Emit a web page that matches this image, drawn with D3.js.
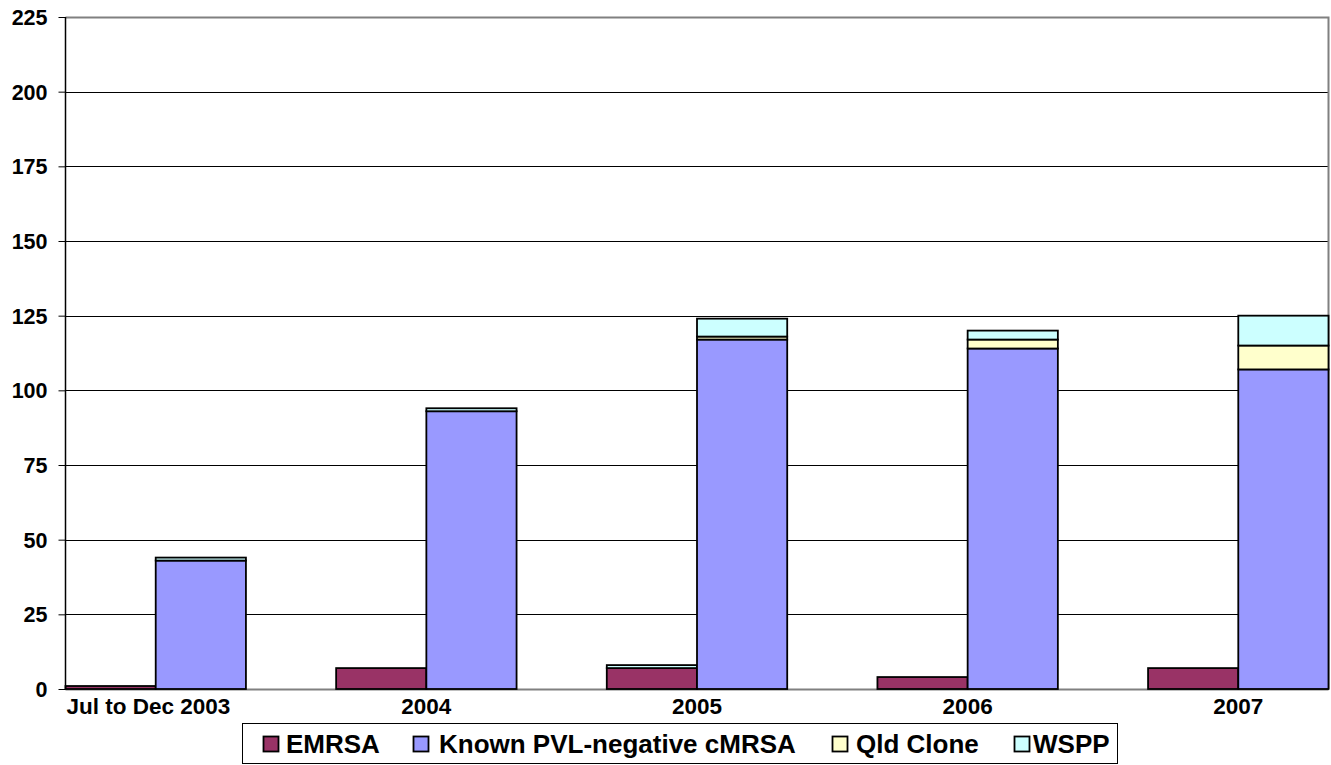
<!DOCTYPE html>
<html>
<head>
<meta charset="utf-8">
<script src="https://cdn.jsdelivr.net/npm/d3@7/dist/d3.min.js"></script>
<style>
html,body{margin:0;padding:0;background:#fff;}
svg{display:block;}
text{font-family:"Liberation Sans",Arial,sans-serif;font-weight:bold;fill:#000;}
</style>
</head>
<body>
<svg id="chart" width="1331" height="765"></svg>
<script>
// ---- data ----
const categories = ["Jul to Dec 2003", "2004", "2005", "2006", "2007"];
const seriesNames = ["EMRSA", "Known PVL-negative cMRSA", "Qld Clone", "WSPP"];
const seriesColors = ["#993366", "#9999FF", "#FFFFCC", "#CCFFFF"];
// left column of each period
const emrsa = [1, 7, 7, 4, 7];
const wsppLeft = [0, 0, 1, 0, 0];
// right column of each period
const pvlNegative = [43, 93, 117, 114, 107];
const qldClone = [0, 0, 1, 3, 8];
const wsppRight = [1, 1, 6, 3, 10];
const yTicks = [0, 25, 50, 75, 100, 125, 150, 175, 200, 225];

// ---- layout ----
const svg = d3.select("#chart");
const L = 65.5, R = 1328.5, T = 17, B = 689;

// slots: each period = left column, right column, gap (last gap dropped)
const slots = [];
categories.forEach((c, i) => { slots.push(i + "L", i + "R"); if (i < categories.length - 1) slots.push(i + "G"); });
const x = d3.scaleBand().domain(slots).range([L, R]).padding(0);
const y = d3.scaleLinear().domain([0, 225]).range([B, T]);

// gridlines
svg.append("g").selectAll("line").data(yTicks.filter(v => v > 0 && v < 225)).join("line")
  .attr("x1", L).attr("x2", R).attr("y1", d => Math.round(y(d)) + 0.5).attr("y2", d => Math.round(y(d)) + 0.5)
  .attr("stroke", "#000").attr("stroke-width", 1);
// plot border top/right (gray)
svg.append("path")
  .attr("d", `M${L},${Math.round(y(225)) + 0.5}H${R}V${B}`)
  .attr("fill", "none").attr("stroke", "#808080").attr("stroke-width", 2);
// bottom axis line
svg.append("line").attr("x1", L).attr("x2", R).attr("y1", B + 0.5).attr("y2", B + 0.5)
  .attr("stroke", "#808080").attr("stroke-width", 2);

// stacks
const segs = [];
categories.forEach((c, i) => {
  const left = [[emrsa[i], 0], [wsppLeft[i], 3]];
  const right = [[pvlNegative[i], 1], [qldClone[i], 2], [wsppRight[i], 3]];
  [[left, i + "L"], [right, i + "R"]].forEach(([stack, slot]) => {
    let base = 0;
    stack.forEach(([v, s]) => {
      if (v > 0) segs.push({ slot, y0: base, y1: base + v, s });
      base += v;
    });
  });
});
svg.append("g").selectAll("rect").data(segs).join("rect")
  .attr("x", d => x(d.slot))
  .attr("width", x.bandwidth())
  .attr("y", d => y(d.y1))
  .attr("height", d => y(d.y0) - y(d.y1))
  .attr("fill", d => seriesColors[d.s])
  .attr("stroke", "#000").attr("stroke-width", 1.8);

// y axis
const yAxis = svg.append("g").attr("transform", `translate(${L},0)`)
  .call(d3.axisLeft(y).tickValues(yTicks).tickSize(7).tickPadding(11));
yAxis.select(".domain").attr("stroke", "#000").attr("stroke-width", 1.5).attr("d", `M-0,${T}V${B}`);
yAxis.selectAll(".tick line").attr("stroke", "#000").attr("stroke-width", 1);
yAxis.selectAll(".tick text").style("font-size", "21.5px").style("font-weight", "bold")
  .style("font-family", '"Liberation Sans",Arial,sans-serif').attr("dy", "0.35em");

// x labels, centred between the two columns of each period
const xl = svg.append("g");
categories.forEach((c, i) => {
  const cx = x(i + "R");
  const t = xl.append("text").attr("y", 714).style("font-size", "22.5px").text(c);
  const w = t.node().getComputedTextLength();
  let left = cx - w / 2;
  if (left < L + 20) left = L + 1;
  t.attr("x", left);
});

// legend
const lg = svg.append("g");
lg.append("rect").attr("x", 242.5).attr("y", 723.5).attr("width", 875).attr("height", 40)
  .attr("fill", "#fff").attr("stroke", "#000").attr("stroke-width", 1);
const legendX = [263, 413, 832, 1014];
const legendTextX = [286, 439, 856, 1033];
seriesNames.forEach((n, i) => {
  lg.append("rect").attr("x", legendX[i] + 0.5).attr("y", 736.5).attr("width", 15).attr("height", 15)
    .attr("fill", seriesColors[i]).attr("stroke", "#000").attr("stroke-width", 1.8);
  lg.append("text").attr("x", legendTextX[i]).attr("y", 753).style("font-size", "26px").text(n);
});
</script>
</body>
</html>
